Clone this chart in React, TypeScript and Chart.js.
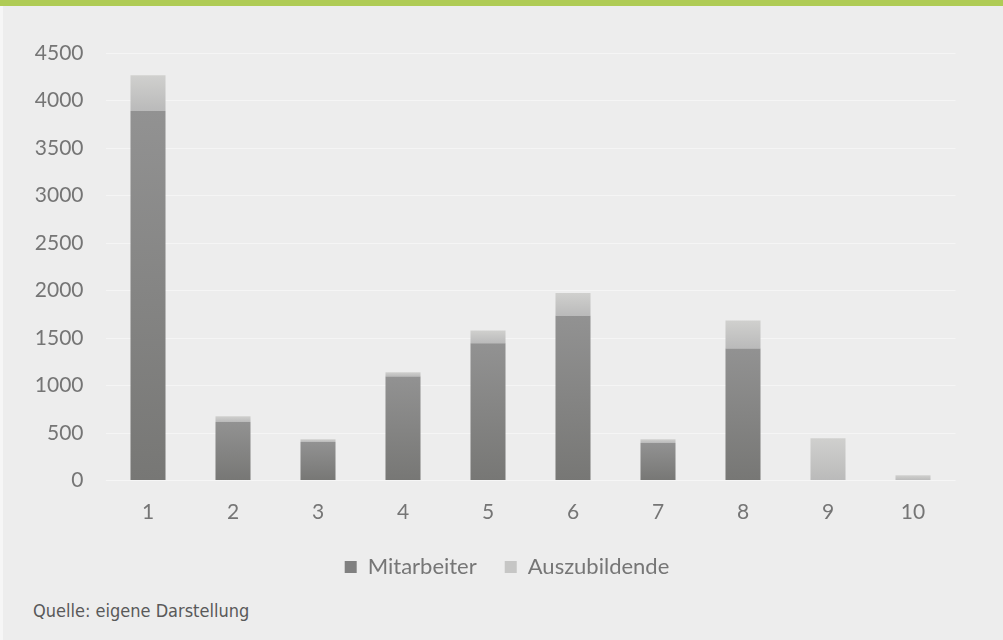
import { useEffect, useRef } from "react";
import { Chart, registerables } from "chart.js";

Chart.register(...registerables);

const categories = ["1", "2", "3", "4", "5", "6", "7", "8", "9", "10"];
const mitarbeiter = [3890, 615, 405, 1095, 1445, 1735, 395, 1390, 0, 0];
const auszubildende = [375, 62, 30, 45, 135, 240, 40, 295, 445, 55];
const seriesNames = ["Mitarbeiter", "Auszubildende"];
const yMin = 0;
const yMax = 4500;
const yStep = 500;

const FONT = "Lato, 'Open Sans', sans-serif";

function gradientFill(top: string, bottom: string, base: number[] | null, values: number[]) {
  return (ctx: any) => {
    const chart = ctx.chart;
    const y = chart.scales && chart.scales.y;
    const i = ctx.dataIndex;
    if (!y || i === undefined || ctx.type !== "data") return top;
    const start = base ? base[i] : 0;
    const end = start + values[i];
    const p0 = y.getPixelForValue(start);
    const p1 = y.getPixelForValue(end);
    if (!isFinite(p0) || !isFinite(p1) || Math.abs(p0 - p1) < 0.5) return top;
    const g = chart.ctx.createLinearGradient(0, p1, 0, p0);
    g.addColorStop(0, top);
    g.addColorStop(1, bottom);
    return g;
  };
}

const baselinePlugin = {
  id: "baseline",
  afterDatasetsDraw(chart: any) {
    const { ctx, chartArea, scales } = chart;
    const py = Math.round(scales.y.getPixelForValue(0)) - 0.5;
    ctx.save();
    ctx.strokeStyle = "rgba(255,255,255,0.14)";
    ctx.lineWidth = 1;
    ctx.beginPath();
    ctx.moveTo(chartArea.left, py);
    ctx.lineTo(chartArea.right, py);
    ctx.stroke();
    ctx.restore();
  },
};

// Centre the legend under the whole plot area (incl. the y-axis labels), as in the original.
const legendCenterPlugin = {
  id: "legendCenter",
  afterLayout(chart: any) {
    const lg = chart.legend;
    if (!lg) return;
    const target = 507;
    const d = target - (lg.left + lg.right) / 2;
    lg.left += d;
    lg.right += d;
  },
};

export default function App() {
  const canvasRef = useRef<HTMLCanvasElement | null>(null);

  useEffect(() => {
    document.body.style.margin = "0";
    const canvas = canvasRef.current;
    if (!canvas) return;
    const chart = new Chart(canvas, {
      type: "bar",
      data: {
        labels: categories,
        datasets: [
          {
            label: seriesNames[0],
            data: mitarbeiter,
            backgroundColor: gradientFill("#929292", "#777775", null, mitarbeiter),
            borderWidth: 0,
            barPercentage: 0.412,
            categoryPercentage: 1,
          },
          {
            label: seriesNames[1],
            data: auszubildende,
            backgroundColor: gradientFill("#d0d0ce", "#bababa", mitarbeiter, auszubildende),
            borderWidth: 0,
            barPercentage: 0.412,
            categoryPercentage: 1,
          },
        ],
      },
      plugins: [baselinePlugin, legendCenterPlugin],
      options: {
        animation: false,
        responsive: true,
        maintainAspectRatio: false,
        layout: { padding: { top: 53, right: 47.5, left: 0, bottom: 0 } },
        plugins: {
          tooltip: { enabled: false },
          legend: {
            position: "bottom",
            labels: {
              boxWidth: 12,
              boxHeight: 12,
              padding: 28,
              color: "#767676",
              font: { family: FONT, size: 22 },
              generateLabels: () => [
                { text: seriesNames[0], fillStyle: "#808080", strokeStyle: "rgba(0,0,0,0)", fontColor: "#767676", lineWidth: 0, hidden: false, datasetIndex: 0 },
                { text: seriesNames[1], fillStyle: "#c6c6c5", strokeStyle: "rgba(0,0,0,0)", fontColor: "#767676", lineWidth: 0, hidden: false, datasetIndex: 1 },
              ],
            },
          },
        },
        scales: {
          x: {
            stacked: true,
            grid: { display: false, drawTicks: false },
            border: { display: false },
            ticks: { color: "#757575", font: { family: FONT, size: 21 }, padding: 19 },
            afterFit: (scale: any) => {
              scale.height = 47.5;
            },
          },
          y: {
            stacked: true,
            min: yMin,
            max: yMax,
            grid: { color: "rgba(255,255,255,0.45)", drawTicks: false },
            border: { display: false },
            ticks: {
              stepSize: yStep,
              color: "#757575",
              font: { family: FONT, size: 21 },
              padding: 22,
              callback: (v: any) => String(v),
            },
            afterFit: (scale: any) => {
              scale.width = 105.5;
            },
          },
        },
      },
    });
    return () => chart.destroy();
  }, []);

  return (
    <div style={{ position: "relative", width: 1003, height: 640, background: "#ededed", overflow: "hidden" }}>
      <div style={{ position: "absolute", left: 0, top: 0, width: 1003, height: 6, background: "#afcb55" }} />
      <div style={{ position: "absolute", left: 0, top: 6, width: 3, height: 634, background: "#f6f6f6" }} />
      <div style={{ position: "absolute", left: 0, top: 0, width: 1003, height: 588 }}>
        <canvas ref={canvasRef} />
      </div>
      <div
        style={{
          position: "absolute",
          left: 33,
          top: 600,
          fontFamily: "'DejaVu Sans Condensed', 'DejaVu Sans', sans-serif",
          fontStretch: "condensed",
          fontSize: 18,
          color: "#595959",
          whiteSpace: "nowrap",
        }}
      >
        Quelle: eigene Darstellung
      </div>
    </div>
  );
}
